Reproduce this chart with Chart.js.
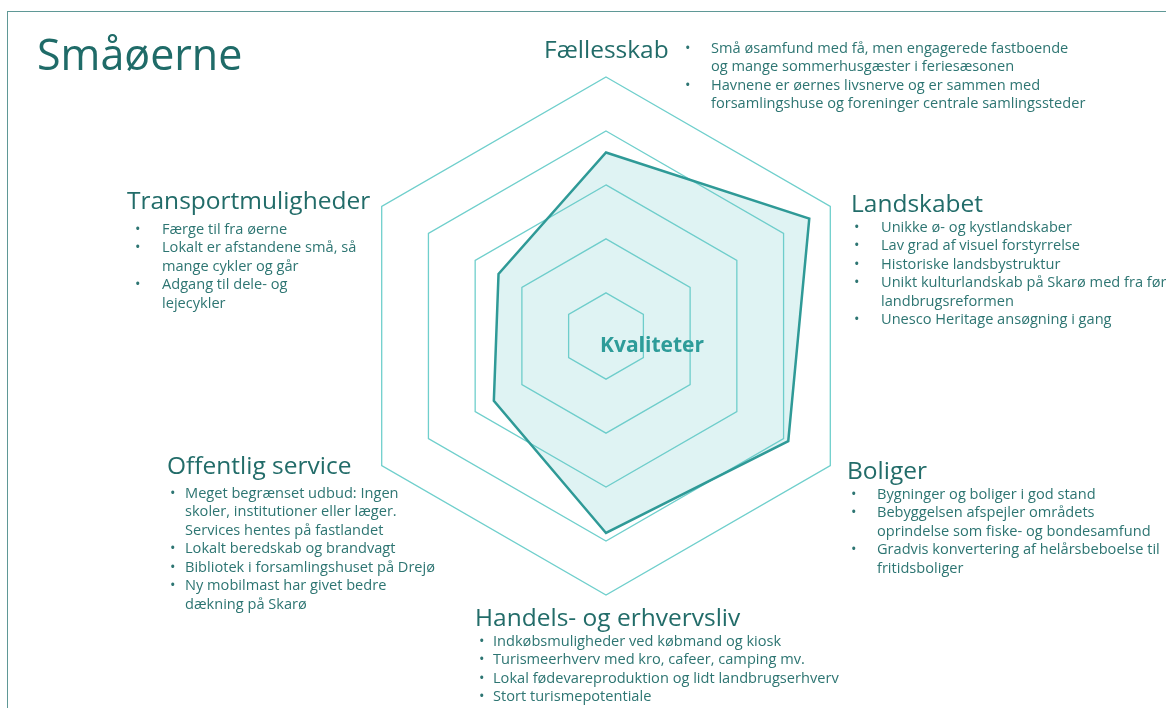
<!DOCTYPE html>
<html>
<head>
<meta charset="utf-8">
<script src="https://cdn.jsdelivr.net/npm/chart.js@4.4.1/dist/chart.umd.min.js"></script>
<style>
  html, body { margin: 0; padding: 0; background: #fff; }
  body { width: 1166px; height: 708px; position: relative; overflow: hidden;
         font-family: "Open Sans", "Noto Sans", sans-serif; }
  #frame { position: absolute; left: 7px; top: 11px; width: 1170px; height: 710px;
           border-left: 1px solid #5f9896; border-top: 1px solid #5f9896; }
  #chart { position: absolute; left: 0; top: 0; }
  .title { position: absolute; left: 37px; top: 29px; font-size: 43px; line-height: 50px;
           color: #1f6b68; }
  .head { position: absolute; font-size: 24.5px; line-height: 28px; color: #226c69;
          white-space: nowrap; }
  .list { position: absolute; margin: 0; padding: 0; list-style: none; white-space: nowrap; }
  .list li { position: relative; font-size: 14.6px; line-height: 18.6px; color: #2d7572; }
  .list li::before { content: "\2022"; position: absolute; left: 0; top: 0; }
  .center { position: absolute; left: 600px; top: 330px; font-size: 21px; font-weight: 700;
            color: #2e9c99; line-height: 28px; }
</style>
</head>
<body>
<div id="frame"></div>
<canvas id="chart" width="1166" height="708"></canvas>
<div class="title">Småøerne</div>
<div class="center">Kvaliteter</div>
<div id="texts"></div>
<script>
var categories = ['Fællesskab', 'Landskabet', 'Boliger', 'Handels- og erhvervsliv', 'Offentlig service', 'Transportmuligheder']
var values = [3.6, 4.55, 4.1, 3.85, 2.6, 2.5]
var tickValues = [1, 2, 3, 4, 5]

var bullets = [
    ['Små øsamfund med få, men engagerede fastboende<br>og mange sommerhusgæster i feriesæsonen',
     'Havnene er øernes livsnerve og er sammen med<br>forsamlingshuse og foreninger centrale samlingssteder'],
    ['Unikke ø- og kystlandskaber', 'Lav grad af visuel forstyrrelse', 'Historiske landsbystruktur',
     'Unikt kulturlandskab på Skarø med fra før<br>landbrugsreformen', 'Unesco Heritage ansøgning i gang'],
    ['Bygninger og boliger i god stand', 'Bebyggelsen afspejler områdets<br>oprindelse som fiske- og bondesamfund',
     'Gradvis konvertering af helårsbeboelse til<br>fritidsboliger'],
    ['Indkøbsmuligheder ved købmand og kiosk', 'Turismeerhverv med kro, cafeer, camping mv.',
     'Lokal fødevareproduktion og lidt landbrugserhverv', 'Stort turismepotentiale'],
    ['Meget begrænset udbud: Ingen<br>skoler, institutioner eller læger.<br>Services hentes på fastlandet',
     'Lokalt beredskab og brandvagt', 'Bibliotek i forsamlingshuset på Drejø',
     'Ny mobilmast har givet bedre<br>dækning på Skarø'],
    ['Færge til fra øerne', 'Lokalt er afstandene små, så<br>mange cykler og går', 'Adgang til dele- og<br>lejecykler']
]

// title x/y, list x/y, gap between bullet and text
var blocks = [
    { hx: 544, hy: 35, lx: 685, ly: 37.5, gap: 26 },
    { hx: 851, hy: 189, lx: 854, ly: 216.5, gap: 27 },
    { hx: 847, hy: 456, lx: 851, ly: 483.5, gap: 26 },
    { hx: 475, hy: 603, lx: 479, ly: 630.5, gap: 14 },
    { hx: 167, hy: 451, lx: 170, ly: 482.5, gap: 15 },
    { hx: 127, hy: 186, lx: 135, ly: 218.5, gap: 27 }
]

var html = ''
function each(arr, fn) { for (var i = 0; i < arr.length; i++) fn(i, arr[i]) }
each(categories, function (i, name) {
    var b = blocks[i]
    html += '<div class="head" style="left:' + b.hx + 'px;top:' + b.hy + 'px">' + name + '</div>'
    html += '<ul class="list" style="left:' + b.lx + 'px;top:' + b.ly + 'px">'
    each(bullets[i], function (j, t) {
        html += '<li style="padding-left:' + b.gap + 'px">' + t + '</li>'
    })
    html += '</ul>'
})
document.getElementById('texts').innerHTML = html

var ctx = document.getElementById('chart').getContext('2d')
new Chart(ctx, {
    type: 'radar',
    data: {
        labels: categories,
        datasets: [{
            label: 'Kvaliteter',
            data: values,
            borderColor: '#2f9a97',
            backgroundColor: 'rgba(110, 200, 200, 0.22)',
            borderWidth: 2.5,
            pointRadius: 0,
            fill: true
        }]
    },
    options: {
        responsive: false,
        animation: false,
        layout: { padding: { left: 347, right: 301, top: 77, bottom: 113 } },
        plugins: { legend: { display: false }, tooltip: { enabled: false } },
        scales: {
            r: {
                min: 0.2,
                max: 5,
                // first tick sits at the centre and is not drawn
                afterBuildTicks: function (scale) {
                    scale.ticks = [scale.min].concat(tickValues).map(function (v) { return { value: v } })
                },
                ticks: { display: false },
                grid: { color: '#6fcfcc', lineWidth: 1.3 },
                angleLines: { display: false },
                pointLabels: { display: false }
            }
        }
    }
})
</script>
</body>
</html>
